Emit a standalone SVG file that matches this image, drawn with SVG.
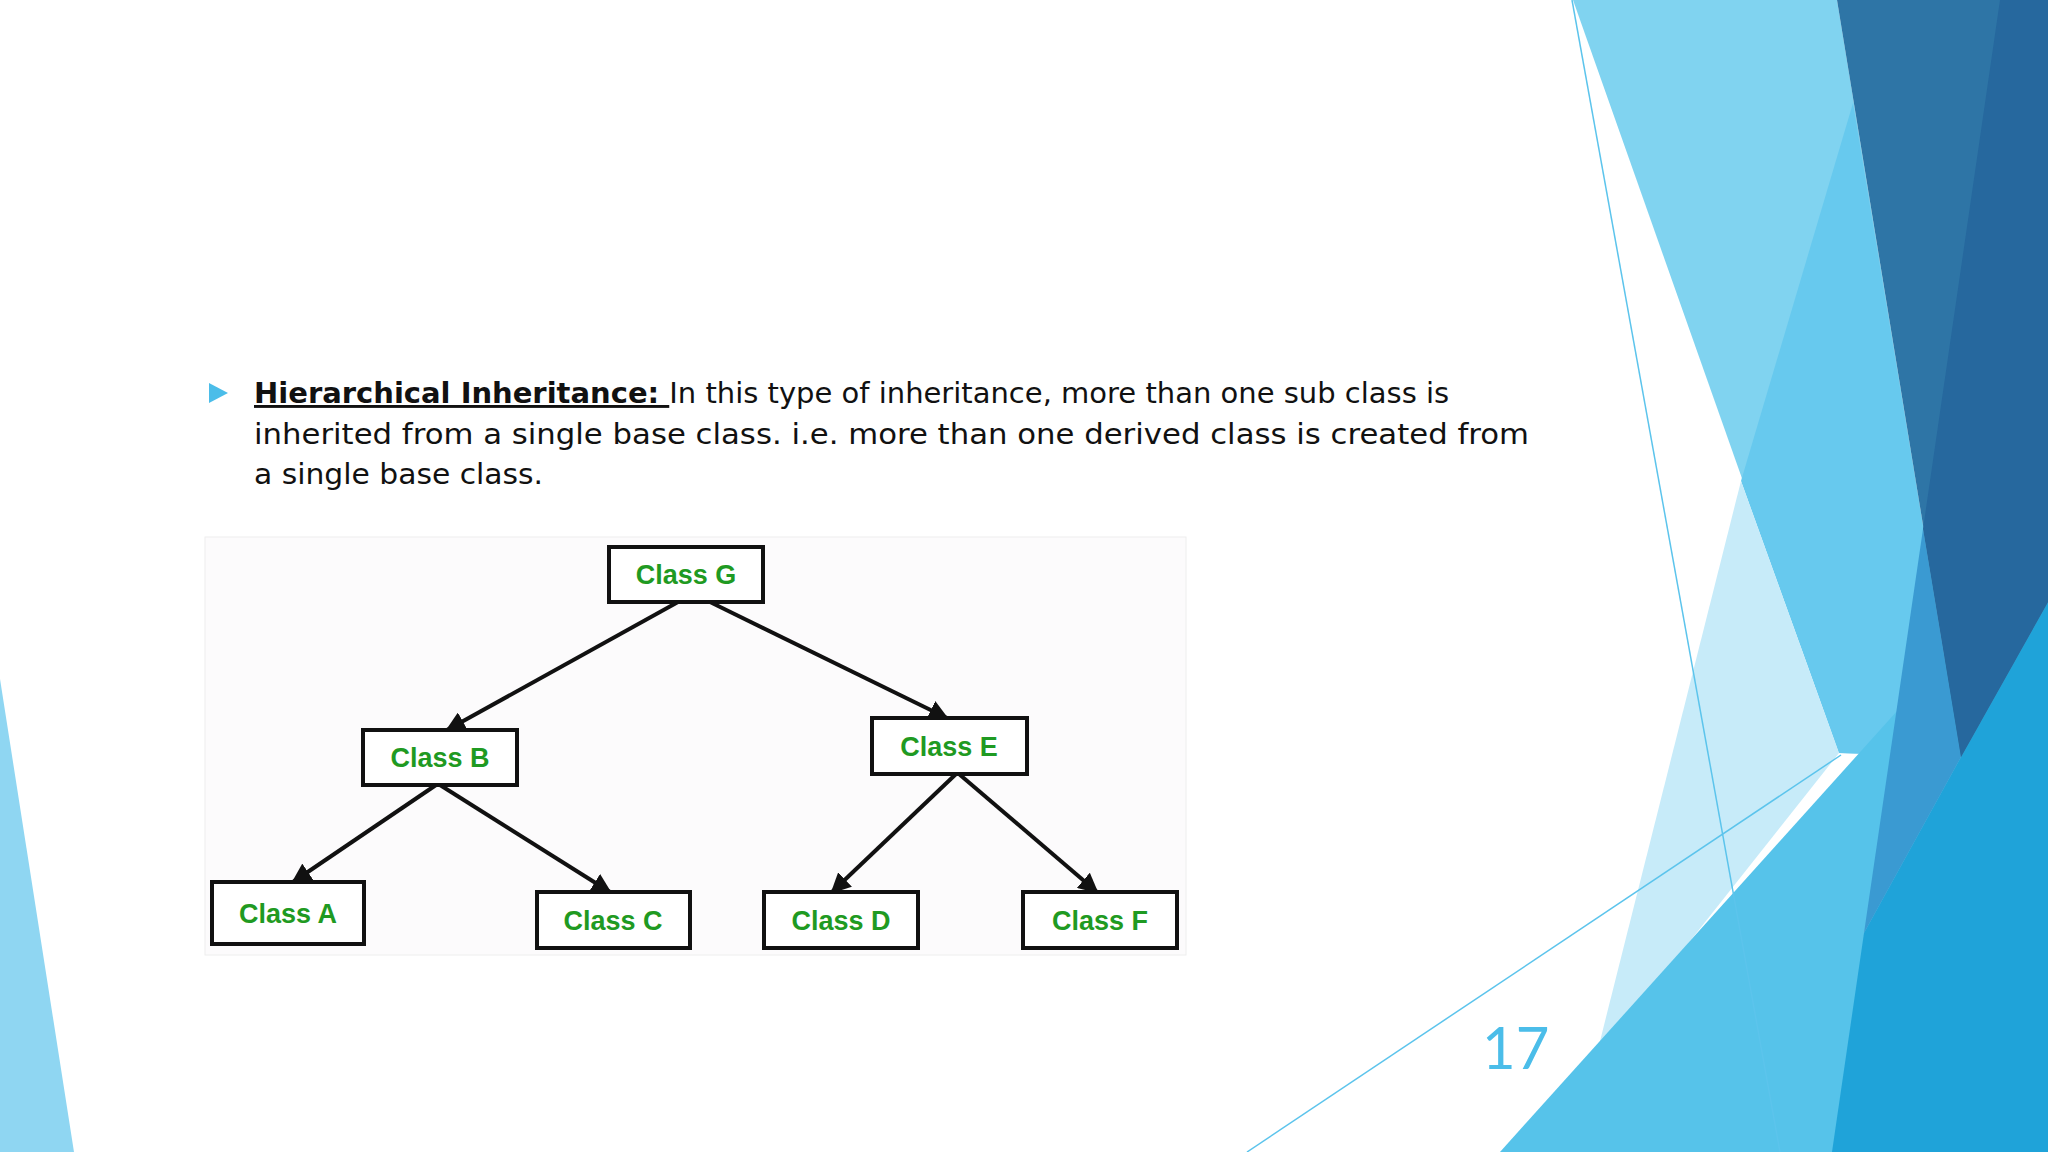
<svg xmlns="http://www.w3.org/2000/svg" width="2048" height="1152" viewBox="0 0 2048 1152">
<defs>
<style>
.box{fill:#fff;stroke:#111;stroke-width:4}
.lbl{font-family:"Liberation Sans",Arial,sans-serif;font-weight:bold;font-size:27px;fill:#1f9a22;text-anchor:middle}
.body{font-family:"DejaVu Sans",sans-serif;font-size:29px;fill:#111}
.edge{stroke:#111;stroke-width:4;fill:none;marker-end:url(#ah)}
</style>
<marker id="ah" viewBox="0 0 10 10" refX="9" refY="5" markerWidth="5" markerHeight="5" orient="auto" markerUnits="strokeWidth">
<path d="M0,0L10,5L0,10z" fill="#111"/>
</marker>
</defs>
<rect width="2048" height="1152" fill="#fff"/>
<g id="background">
<polygon points="0,679 0,1152 74,1152" fill="#8fd6f2"/>
<polygon points="1573,0 1837,0 1961,757 1839,753" fill="#80d3f0"/>
<polygon points="1853,103 1741,481 1839,753 1961,757" fill="#67c9ee"/>
<polygon points="1741,481 1839,753 1595,1061" fill="#c7ebf9"/>
<polygon points="1500,1152 1961,640 2048,602 2048,1152" fill="#56c3ea"/>
<polygon points="1832,1152 1864,933 1961,757 2048,602 2048,1152" fill="#1fa3d9"/>
<polygon points="1864,933 1923,529 1961,757" fill="#3a9ad2"/>
<polygon points="1837,0 2048,0 2048,602 1961,757" fill="#2e75a6"/>
<polygon points="2000,0 2048,0 2048,602 1961,757 1923,529" fill="#26689e"/>
<line x1="1572" y1="0" x2="1780" y2="1152" stroke="#5cc4ec" stroke-width="1.5"/>
<line x1="1247" y1="1152" x2="1841" y2="755" stroke="#5cc4ec" stroke-width="1.5"/>
</g>
<g id="text">
<polygon points="209,383 228,393 209,403" fill="#4bbde9"/>
<text class="body" x="254" y="403"><tspan font-weight="bold" text-decoration="underline">Hierarchical Inheritance: </tspan><tspan>In this type of inheritance, more than one sub class is</tspan></text>
<text class="body" x="254" y="444" textLength="1275" lengthAdjust="spacingAndGlyphs">inherited from a single base class. i.e. more than one derived class is created from</text>
<text class="body" x="254" y="484" textLength="289" lengthAdjust="spacingAndGlyphs">a single base class.</text>
<text x="1482" y="1069" font-family="Lato,'Open Sans',sans-serif" font-size="58" fill="#4bbde9">17</text>
</g>
<rect x="205" y="537" width="981" height="418" fill="#fcfbfc" stroke="#eeeeee" stroke-width="1"/>
<g id="connectors">
<line class="edge" x1="678" y1="602" x2="447" y2="730"/>
<line class="edge" x1="710" y1="602" x2="947" y2="718"/>
<line class="edge" x1="436" y1="785" x2="293" y2="882"/>
<line class="edge" x1="440" y1="785" x2="610" y2="892"/>
<line class="edge" x1="956" y1="774" x2="832" y2="892"/>
<line class="edge" x1="959" y1="774" x2="1097" y2="892"/>
</g>
<g id="classG"><rect class="box" x="609" y="547" width="154" height="55"/><text class="lbl" x="686" y="584">Class G</text></g>
<g id="classB"><rect class="box" x="363" y="730" width="154" height="55"/><text class="lbl" x="440" y="767">Class B</text></g>
<g id="classE"><rect class="box" x="872" y="718" width="155" height="56"/><text class="lbl" x="949" y="756">Class E</text></g>
<g id="classA"><rect class="box" x="212" y="882" width="152" height="62"/><text class="lbl" x="288" y="923">Class A</text></g>
<g id="classC"><rect class="box" x="537" y="892" width="153" height="56"/><text class="lbl" x="613" y="930">Class C</text></g>
<g id="classD"><rect class="box" x="764" y="892" width="154" height="56"/><text class="lbl" x="841" y="930">Class D</text></g>
<g id="classF"><rect class="box" x="1023" y="892" width="154" height="56"/><text class="lbl" x="1100" y="930">Class F</text></g>
</svg>
